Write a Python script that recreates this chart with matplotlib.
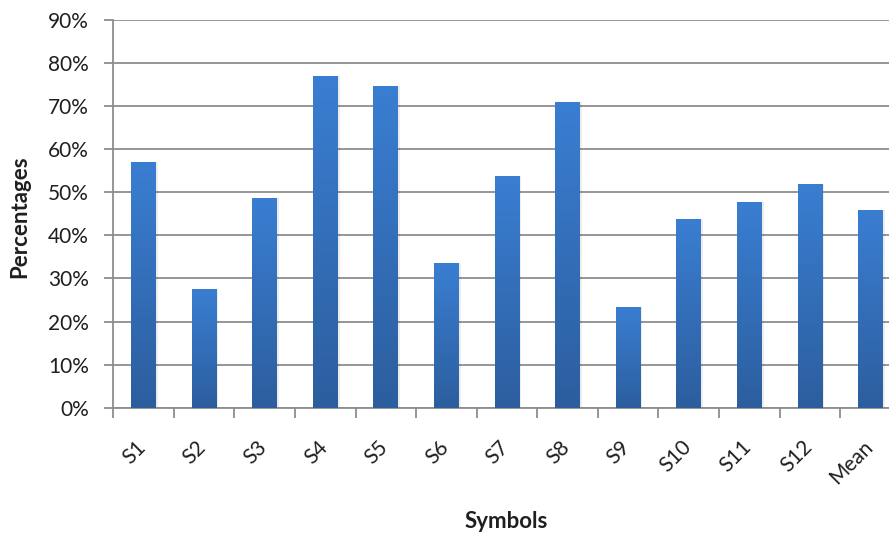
import numpy as np
import matplotlib.pyplot as plt
from matplotlib.colors import LinearSegmentedColormap
from matplotlib.transforms import ScaledTranslation

symbols = ['S1', 'S2', 'S3', 'S4', 'S5', 'S6', 'S7', 'S8', 'S9', 'S10', 'S11', 'S12', 'Mean']
percent = [57.0, 27.5, 48.6, 77.0, 74.7, 33.7, 53.7, 71.0, 23.4, 43.9, 47.7, 51.9, 45.8]
yticks = [0, 10, 20, 30, 40, 50, 60, 70, 80, 90]

plt.rcParams['font.family'] = ['Lato', 'DejaVu Sans']
txt = '#1f1f1f'
grid_c = '#8e8e8e'

fig = plt.figure(figsize=(8.89, 5.34), dpi=100)
ax = fig.add_axes([0.1274, 0.2365, 0.8859, 0.7260])

x = np.arange(len(symbols))
bars = ax.bar(x, percent, width=0.41, color='none', edgecolor='none', zorder=3)

# vertical gradient fill, lighter at the top of each bar
cmap = LinearSegmentedColormap.from_list('bar', ['#2c5e9e', '#3a7ed2'])
grad = np.linspace(0, 1, 256).reshape(-1, 1)
for b in bars:
    x0, w, h = b.get_x(), b.get_width(), b.get_height()
    # soft shadow behind the bar
    ax.bar(x0 + w / 2 + 0.015, h, width=w + 0.03, color='#000000', alpha=0.07,
           zorder=2.5, linewidth=0)
    im = ax.imshow(grad, cmap=cmap, origin='lower', aspect='auto',
                   extent=[x0, x0 + w, 0, h], zorder=3)
    im.set_clip_path(b)

ax.set_xlim(-0.5, len(symbols) - 0.5)
ax.set_ylim(0, 90)

ax.set_yticks(yticks)
ax.set_yticklabels([f'{v}%' for v in yticks], fontsize=15, color=txt)
ax.yaxis.grid(True, color=grid_c, linewidth=1.3, zorder=0)
ax.set_axisbelow(True)
ax.tick_params(axis='y', length=6.5, width=1.3, color=grid_c, pad=11)

ax.set_xticks(x)
ax.set_xticks(np.arange(-0.5, len(symbols), 1), minor=True)
ax.set_xticklabels(symbols, rotation=45, ha='right', va='top', fontsize=15, color=txt)
ax.tick_params(axis='x', which='major', length=0, pad=21)
ax.tick_params(axis='x', which='minor', length=7, width=1.3, color=grid_c)
shift = ScaledTranslation(6 / 100, 0, fig.dpi_scale_trans)
for lab in ax.get_xticklabels():
    lab.set_transform(lab.get_transform() + shift)

for s in ['top', 'right']:
    ax.spines[s].set_visible(False)
for s in ['left', 'bottom']:
    ax.spines[s].set_color(grid_c)
    ax.spines[s].set_linewidth(1.3)

fig.text(506 / 889, 1 - 521 / 534, 'Symbols', ha='center', va='center',
         fontsize=16, fontweight='bold', color=txt)
fig.text(20 / 889, 1 - 217 / 534, 'Percentages', ha='center', va='center',
         rotation=90, fontsize=16, fontweight='bold', color=txt)

fig.savefig('out.png', dpi=100)
